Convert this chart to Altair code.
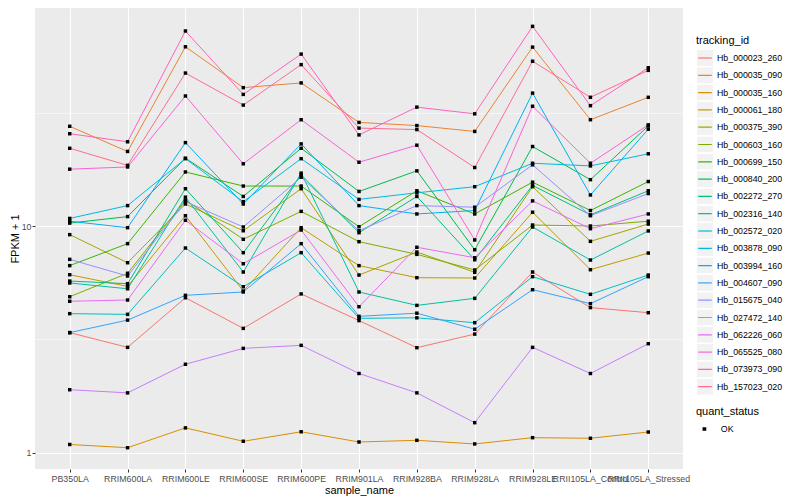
import altair as alt
import pandas as pd

samples = ["PB350LA", "RRIM600LA", "RRIM600LE", "RRIM600SE", "RRIM600PE",
           "RRIM901LA", "RRIM928BA", "RRIM928LA", "RRIM928LE",
           "RRII105LA_Control", "RRII105LA_Stressed"]

tracking_ids = ["Hb_000023_260", "Hb_000035_090", "Hb_000035_160", "Hb_000061_180",
                "Hb_000375_390", "Hb_000603_160", "Hb_000699_150", "Hb_000840_200",
                "Hb_002272_270", "Hb_002316_140", "Hb_002572_020", "Hb_003878_090",
                "Hb_003994_160", "Hb_004607_090", "Hb_015675_040", "Hb_027472_140",
                "Hb_062226_060", "Hb_065525_080", "Hb_073973_090", "Hb_157023_020"]

palette = ["#F8766D", "#EA8331", "#D89000", "#C09B00", "#A3A500", "#7CAE00",
           "#39B600", "#00BB4E", "#00BF7D", "#00C1A3", "#00BFC4", "#00BAE0",
           "#00B0F6", "#35A2FF", "#9590FF", "#C77CFF", "#E76BF3", "#FA62DB",
           "#FF62BC", "#FF6C91"]

# FPKM + 1 per sample (same order as samples)
Hb_000023_260 = [3.39, 2.92, 4.83, 3.54, 5.02, 3.83, 2.91, 3.34, 6.27, 4.37, 4.15]
Hb_000035_090 = [27.5, 21.3, 61.6, 40.7, 42.7, 28.6, 27.7, 26.1, 61.4, 29.4, 36.9]
Hb_000035_160 = [1.09, 1.055, 1.29, 1.126, 1.24, 1.118, 1.137, 1.096, 1.168, 1.161, 1.237]
Hb_000061_180 = [6.10, 5.42, 11.1, 5.17, 9.83, 6.69, 5.92, 5.90, 11.5, 6.42, 7.60]
Hb_000375_390 = [9.16, 6.89, 12.5, 9.53, 14.6, 6.08, 7.68, 6.25, 14.9, 8.56, 10.2]
Hb_000603_160 = [4.88, 6.19, 13.0, 8.74, 11.6, 8.53, 7.50, 6.40, 10.1, 10.0, 10.5]
Hb_000699_150 = [6.69, 8.36, 17.3, 15.0, 15.0, 9.93, 14.3, 11.3, 15.6, 11.7, 15.7]
Hb_000840_200 = [10.3, 11.0, 19.9, 13.5, 22.0, 14.2, 17.5, 7.86, 22.4, 16.0, 27.6]
Hb_002272_270 = [5.72, 5.57, 14.6, 7.63, 16.8, 9.34, 13.5, 7.10, 15.1, 11.2, 14.3]
Hb_002316_140 = [5.61, 5.29, 13.4, 6.27, 17.1, 5.12, 4.47, 4.80, 9.90, 7.08, 9.51]
Hb_002572_020 = [4.11, 4.08, 8.00, 5.40, 7.63, 3.92, 3.94, 3.75, 5.98, 5.00, 6.08]
Hb_003878_090 = [10.8, 12.3, 19.8, 12.8, 19.8, 13.1, 14.0, 14.9, 18.9, 18.4, 20.8]
Hb_003994_160 = [10.5, 9.83, 23.3, 12.5, 23.0, 12.3, 11.3, 11.7, 38.5, 13.7, 26.7]
Hb_004607_090 = [3.39, 3.85, 4.95, 5.12, 8.36, 4.00, 4.13, 3.51, 5.24, 4.55, 5.98]
Hb_015675_040 = [7.13, 6.02, 12.8, 9.90, 16.4, 9.53, 12.3, 12.1, 18.6, 11.1, 13.9]
Hb_027472_140 = [1.90, 1.84, 2.46, 2.89, 2.98, 2.24, 1.84, 1.36, 2.92, 2.24, 3.03]
Hb_062226_060 = [4.66, 4.72, 10.6, 6.82, 9.60, 4.41, 8.06, 7.25, 12.9, 9.73, 11.3]
Hb_065525_080 = [17.8, 18.2, 37.4, 18.8, 29.4, 19.1, 22.7, 8.68, 33.7, 18.9, 27.9]
Hb_073973_090 = [25.5, 23.5, 72.3, 38.0, 57.2, 25.2, 33.4, 31.2, 75.8, 33.9, 49.8]
Hb_157023_020 = [22.0, 18.5, 47.2, 34.1, 51.4, 27.0, 26.6, 18.1, 53.2, 36.9, 48.5]

series = {
    "Hb_000023_260": Hb_000023_260, "Hb_000035_090": Hb_000035_090,
    "Hb_000035_160": Hb_000035_160, "Hb_000061_180": Hb_000061_180,
    "Hb_000375_390": Hb_000375_390, "Hb_000603_160": Hb_000603_160,
    "Hb_000699_150": Hb_000699_150, "Hb_000840_200": Hb_000840_200,
    "Hb_002272_270": Hb_002272_270, "Hb_002316_140": Hb_002316_140,
    "Hb_002572_020": Hb_002572_020, "Hb_003878_090": Hb_003878_090,
    "Hb_003994_160": Hb_003994_160, "Hb_004607_090": Hb_004607_090,
    "Hb_015675_040": Hb_015675_040, "Hb_027472_140": Hb_027472_140,
    "Hb_062226_060": Hb_062226_060, "Hb_065525_080": Hb_065525_080,
    "Hb_073973_090": Hb_073973_090, "Hb_157023_020": Hb_157023_020,
}

rows = []
for tid in tracking_ids:
    for i, (s, v) in enumerate(zip(samples, series[tid])):
        rows.append({"tracking_id": tid, "key_id": tid, "sample_name": s,
                     "idx": i, "fpkm1": v, "quant_status": "OK", "qkey": "OK"})
df = pd.DataFrame(rows)

FONT = "Liberation Sans"
MAJOR = "datum.value == 1 || datum.value == 10"
CLEAR = "rgba(0,0,0,0)"

x_enc = alt.X(
    "sample_name:N", sort=samples,
    scale=alt.Scale(type="point", padding=0.6),
    axis=alt.Axis(title="sample_name", labelAngle=0, labelOverlap=False,
                  labelFontSize=8.8, labelColor="#4D4D4D", labelPadding=2,
                  tickColor="#333333", tickSize=3, domain=False,
                  grid=True, gridColor="white", gridWidth=1.1,
                  titleFontSize=11, titleFontWeight="normal", titleColor="black",
                  titlePadding=2),
)
y_enc = alt.Y(
    "fpkm1:Q",
    scale=alt.Scale(type="log", domain=[0.85, 91.3], nice=False),
    axis=alt.Axis(title="FPKM + 1", values=[1, 3.1623, 10, 31.623],
                  labelExpr="(" + MAJOR + ") ? datum.label : ''",
                  format="d",
                  labelFontSize=8.8, labelColor="#4D4D4D", labelPadding=1,
                  tickColor="#333333", tickSize=3,
                  tickOpacity={"condition": {"test": MAJOR, "value": 1}, "value": 0},
                  domain=False, grid=True, gridColor="white",
                  gridWidth={"condition": {"test": MAJOR, "value": 1.1}, "value": 0.55},
                  titleFontSize=11, titleFontWeight="normal", titleColor="black",
                  titlePadding=1),
)

LEG_X = 661
TRACK_Y = 27
QUANT_Y = 398
base_leg = dict(orient="none", legendX=LEG_X, symbolSize=256, clipHeight=16,
                rowPadding=1.3, symbolStrokeWidth=1.2,
                labelFontSize=8.8, titleFontSize=11, titleFontWeight="normal",
                titlePadding=4, labelFont=FONT, titleFont=FONT, labelLimit=200)

# grey legend key boxes for tracking_id
keys = alt.Chart(df).mark_point(shape="square", filled=True, opacity=0, size=1).encode(
    x=x_enc, y=y_enc,
    fill=alt.Fill("key_id:N",
                  scale=alt.Scale(range=["#F2F2F2"] * len(tracking_ids)),
                  legend=alt.Legend(title=" ", symbolType="square", legendY=TRACK_Y,
                                    labelExpr="' '", labelOffset=3,
                                    symbolOpacity=1, symbolStrokeColor=CLEAR,
                                    **base_leg)),
)

# grey legend key box for quant_status
qkeys = alt.Chart(df).mark_point(shape="square", filled=True, opacity=0, size=1,
                                 color="#F2F2F2").encode(
    x=x_enc, y=y_enc,
    fillOpacity=alt.FillOpacity("qkey:O", scale=alt.Scale(range=[1, 1]),
                                legend=alt.Legend(title=" ", symbolType="square",
                                                  legendY=QUANT_Y, labelExpr="' '",
                                                  labelOffset=3,
                                                  symbolOpacity=1,
                                                  symbolStrokeColor=CLEAR,
                                                  symbolFillColor="#F2F2F2",
                                                  **base_leg)),
)

lines = alt.Chart(df).mark_line(strokeWidth=1).encode(
    x=x_enc, y=y_enc,
    stroke=alt.Stroke("tracking_id:N",
                      scale=alt.Scale(domain=tracking_ids, range=palette),
                      legend=alt.Legend(title="tracking_id", legendY=TRACK_Y,
                                        symbolType="M-0.85,0L0.85,0",
                                        labelOffset=3,
                                        labelColor="black", titleColor="black",
                                        **base_leg)),
    detail="tracking_id:N",
    order=alt.Order("idx:Q"),
)

points = alt.Chart(df).mark_point(filled=True, color="black", size=12, opacity=1).encode(
    x=x_enc, y=y_enc,
    shape=alt.Shape("quant_status:N", scale=alt.Scale(range=["square"]),
                    legend=alt.Legend(title="quant_status", orient="none",
                                      legendX=LEG_X, legendY=QUANT_Y,
                                      symbolSize=14, symbolFillColor="black",
                                      symbolStrokeColor="black", symbolStrokeWidth=0,
                                      symbolOffset=4, clipHeight=16,
                                      labelFontSize=8.8, titleFontSize=11,
                                      titleFontWeight="normal", titlePadding=4,
                                      labelOffset=12, labelFont=FONT, titleFont=FONT,
                                      titleColor="black", labelColor="black")),
)

chart = alt.layer(keys, qkeys, lines, points).properties(
    width=648, height=461,
    autosize=alt.AutoSizeParams(type="none"),
    padding={"left": 27, "top": 0, "right": 105, "bottom": 30},
).configure(
    font=FONT,
).configure_view(
    fill="#EBEBEB", stroke=None,
)

chart.save("out.html", embed_options={"renderer": "svg", "actions": False})
